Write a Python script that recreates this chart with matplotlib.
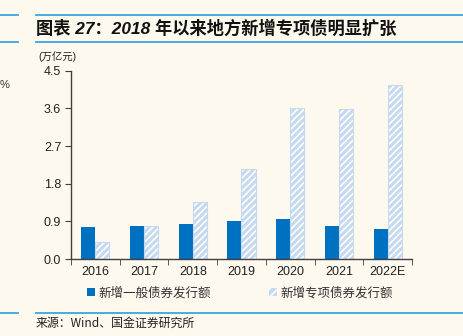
import matplotlib
matplotlib.use("Agg")
import matplotlib.pyplot as plt
from matplotlib.patches import Patch
from matplotlib.lines import Line2D
import numpy as np

plt.rcParams['font.family'] = ['Liberation Sans', 'Noto Sans CJK SC', 'DejaVu Sans']
plt.rcParams['hatch.linewidth'] = 1.2

categories = ['2016', '2017', '2018', '2019', '2020', '2021', '2022E']
general = [0.77, 0.80, 0.83, 0.91, 0.95, 0.79, 0.72]
special = [0.41, 0.80, 1.36, 2.16, 3.60, 3.58, 4.15]
yticks = [0.0, 0.9, 1.8, 2.7, 3.6, 4.5]
title = '图表 27：2018 年以来地方新增专项债明显扩张'
unit = '(万亿元)'
legend_labels = ['新增一般债券发行额', '新增专项债券发行额']
source = '来源：Wind、国金证券研究所'

bg = '#FEF9EF'
blue = '#0070C0'
light = '#C5D9F1'
line_blue = '#3AA5E0'

fig = plt.figure(figsize=(4.64, 3.36), dpi=100, facecolor=bg)
ax = fig.add_axes([71/464, 1-259/336, (412-71)/464, (259-70.7)/336], facecolor=bg)

x = np.arange(len(categories))
w = 0.29
ax.bar(x - w/2, general, width=w, color=blue, linewidth=0)
ax.bar(x + w/2, special, width=w, color=light, edgecolor='white', hatch='/////', linewidth=0)
ax.bar(x + w/2, special, width=w, fill=False, edgecolor=light, linewidth=0.8)

ax.set_xlim(-0.5, len(categories) - 0.5)
ax.set_ylim(0, 4.5)
ax.set_yticks(yticks)
ax.set_yticklabels([f'{v:.1f}' for v in yticks], fontsize=9, color='#222222')
ax.set_xticks(x)
ax.set_xticklabels(categories, fontsize=9, color='#222222')
ax.set_xticks(np.arange(len(categories) + 1) - 0.5, minor=True)
ax.tick_params(axis='x', which='major', length=0, pad=5)
ax.tick_params(axis='x', which='minor', length=4, direction='out', color='#404040')
ax.tick_params(axis='y', length=4, direction='out', color='#404040', pad=3)
for s in ['top', 'right']:
    ax.spines[s].set_visible(False)
for s in ['left', 'bottom']:
    ax.spines[s].set_color('#404040')
    ax.spines[s].set_linewidth(1.0)

# header / footer lines
for yy in [15, 42, 312.5]:
    fy = 1 - yy/336
    fig.add_artist(Line2D([36/464, 1], [fy, fy], color=line_blue, lw=1.3))
    fig.add_artist(Line2D([0, 18/464], [fy, fy], color=line_blue, lw=1.3))

fig.text(36/464, 1-28/336, title, fontsize=12.4, fontweight='bold', style='italic',
         family=['Liberation Sans', 'Noto Sans CJK SC'], va='center', ha='left', color='#111111')
fig.text(38/464, 1-57/336, unit, fontsize=7.5, va='center', ha='left', color='#222222',
         family=['Liberation Sans', 'Noto Sans CJK SC'])
fig.text(36/464, 1-323/336, source, fontsize=8.6, va='center', ha='left', color='#222222',
         family=['Noto Sans CJK SC', 'Liberation Sans'])
fig.text(0, 1-85/336, '%', fontsize=8, va='center', ha='left', color='#333333')

handles = [Patch(facecolor=blue, edgecolor=blue, linewidth=0),
           Patch(facecolor=light, edgecolor='white', hatch='////', linewidth=0)]
leg = fig.legend(handles, legend_labels, loc='center', bbox_to_anchor=(240/464, 1-293/336),
                 ncol=2, frameon=False, handlelength=0.65, handleheight=0.65,
                 handletextpad=0.3, columnspacing=4.6,
                 prop={'family': ['Noto Sans CJK SC'], 'size': 9})
for t in leg.get_texts():
    t.set_color('#333333')

fig.savefig('out.png', dpi=100, facecolor=bg)
